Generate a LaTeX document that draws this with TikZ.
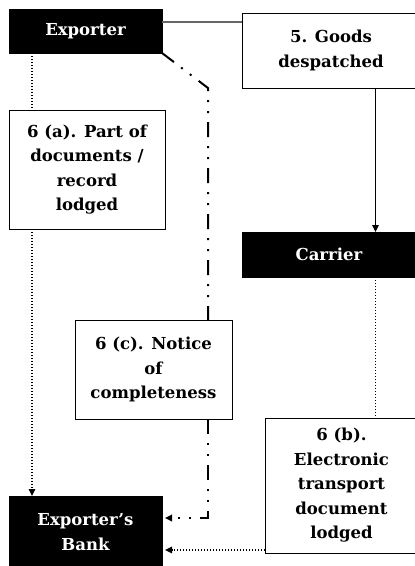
\documentclass[tikz,border=0pt]{standalone}
\usepackage{fontspec}
\setmainfont{DejaVu Serif}
\usetikzlibrary{shapes,arrows,arrows.meta,positioning}

\begin{document}
\begin{tikzpicture}[
    x=1pt, y=-1pt,
    party/.style={rectangle, draw=black, fill=black, text=white, anchor=north west, inner sep=0pt, outer sep=0pt, align=center, font=\bfseries\fontsize{16.5}{24.5}\selectfont},
    event/.style={rectangle, draw=black, line width=1pt, fill=white, anchor=north west, inner sep=0pt, outer sep=0pt, align=center, font=\bfseries\fontsize{16.5}{24.5}\selectfont},
    arrow/.style={->, >={Triangle[length=7pt,width=6.5pt]}},
    link/.style={draw=black!60, line width=1.2pt},
    dots/.style={line width=1.3pt, dash pattern=on 1.3pt off 1.7pt},
    chain/.style={line width=2pt, dash pattern=on 15pt off 9pt on 2pt off 9pt on 2pt off 9pt}
]
    \useasboundingbox (0,0) rectangle (415,566);
    \clip (0,0) rectangle (415,566);

    \node[party, minimum width=153pt, minimum height=44pt] (exporter) at (9,9) {Exporter};
    \node[event, minimum width=178pt, minimum height=75pt] (goods) at (242,13) {5. Goods\\despatched};
    \node[party, minimum width=174pt, minimum height=45pt] (carrier) at (242,232) {Carrier};
    \node[event, minimum width=156pt, minimum height=119pt] (parta) at (9,110) {6 (a). Part of\\documents /\\record\\lodged};
    \node[event, minimum width=157pt, minimum height=99pt] (notice) at (75,320) {6 (c). Notice\\of\\completeness};
    \node[event, minimum width=153pt, minimum height=135pt] (partb) at (265,418) {6 (b).\\Electronic\\transport\\document\\lodged};
    \node[party, minimum width=153pt, minimum height=72pt] (bank) at (9,496) {Exporter's\\Bank};

    \coordinate (colA) at (32,0);
    \coordinate (colC) at (208,0);
    \coordinate (colB) at (375.5,0);
    \coordinate (bend) at (208,88);
    \coordinate (rowC) at (0,518);
    \coordinate (rowB) at (0,550);

    \draw[link] ([yshift=9pt]exporter.east) -- ([yshift=9pt]exporter.east -| goods.west);
    \draw[arrow, line width=1pt] (goods.south -| colB) -- (carrier.north -| colB);
    \draw[dots] (carrier.south -| colB) -- (partb.north -| colB);
    \draw[dots] (exporter.south -| colA) -- (parta.north -| colA);
    \draw[dots, arrow] (parta.south -| colA) -- (bank.north -| colA);
    \draw[chain] (exporter.south east) -- (bend) -- (notice.north -| colC);
    \draw[chain, arrow, shorten >=3pt] (notice.south -| colC) |- (bank.east |- rowC);
    \draw[dots, arrow, shorten >=3pt] (partb.west |- rowB) -- (bank.east |- rowB);
\end{tikzpicture}
\end{document}
